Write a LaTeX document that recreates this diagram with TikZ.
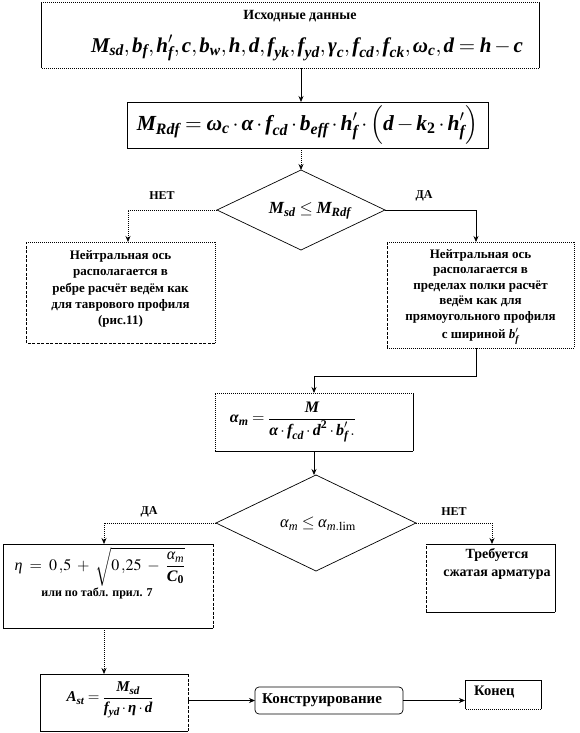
\documentclass[tikz,border=0pt]{standalone}
\usepackage{amsmath}
\usepackage{mathptmx}
\usepackage[no-math]{fontspec}
\setmainfont{Liberation Serif}
\usetikzlibrary{arrows.meta,shapes.geometric}
\newcommand\bi[1]{\text{\bfseries\itshape #1}}
\newcommand\ri[1]{\text{\itshape #1}}
\newcommand\boxsides[5]{%
  \draw[#2] (#1.north west) -- (#1.north east);
  \draw[#3] (#1.north east) -- (#1.south east);
  \draw[#4] (#1.south east) -- (#1.south west);
  \draw[#5] (#1.south west) -- (#1.north west);}
\tikzset{
  lw/.style={line width=0.7pt},
  fdot/.style={lw,dash pattern=on 1pt off 1pt},
  fdash/.style={lw,dash pattern=on 3pt off 1.5pt},
  sol/.style={lw},
  frame/.style={rectangle,inner sep=0pt,outer sep=0pt},
  arr/.style={lw,-{Stealth[length=6pt,width=5pt]}},
  txt/.style={font=\fontsize{14}{16.5}\selectfont\bfseries,align=center,inner sep=0pt},
  side/.style={font=\fontsize{13}{16.3}\selectfont\bfseries,align=center,inner sep=0pt},
  lbl/.style={font=\fontsize{12}{14}\selectfont\bfseries,inner sep=0pt},
  dia/.style={diamond,draw,lw,inner sep=0pt,outer sep=0pt}
}
\begin{document}
\begin{tikzpicture}[x=1pt,y=-1pt]
\useasboundingbox (0,0) rectangle (579,733);
% box 1
\node[frame,minimum width=498pt,minimum height=66pt] (b1) at (290,35) {};
\boxsides{b1}{fdot}{sol}{fdot}{sol}
\node[txt] (b1t) at (300,16) {Исходные данные};
\node[inner sep=0pt,font=\fontsize{21}{24}\selectfont] (b1f) at (307,48)
 {$\bi{M}_{\bi{sd}},\bi{b}_{\bi{f}},\bi{h}_{\bi{f}}^{\prime},\bi{c},\bi{b}_{\bi{w}},\bi{h},\bi{d},\bi{f}_{\bi{yk}},\bi{f}_{\bi{yd}},\bi{γ}_{\bi{c}},\bi{f}_{\bi{cd}},\bi{f}_{\bi{ck}},\bi{ω}_{\bi{c}},\bi{d}=\bi{h}-\bi{c}$};
% box 2
\node[frame,draw,lw,minimum width=361pt,minimum height=46pt,font=\fontsize{21.5}{24}\selectfont] (b2) at (307.5,125)
 {$\bi{M}_{\bi{Rdf}}=\bi{ω}_{\bi{c}}\cdot\bi{α}\cdot\bi{f}_{\bi{cd}}\cdot\bi{b}_{\bi{eff}}\cdot\bi{h}_{\bi{f}}^{\prime}\cdot\left(\bi{d}-\bi{k}_{\textbf{2}}\cdot\bi{h}_{\bi{f}}^{\prime}\right)$};
% diamond 1
\node[dia,minimum width=168pt,minimum height=80pt] (d1) at (301,210) {};
\node[inner sep=0pt,font=\fontsize{17}{20}\selectfont] (d1t) at (310,211) {$\bi{M}_{\bi{sd}}\le\bi{M}_{\bi{Rdf}}$};
\node[lbl] (no1) at (162,196) {НЕТ};
\node[lbl] (yes1) at (424,196) {ДА};
% side boxes
\node[frame,minimum width=189pt,minimum height=101pt] (bl) at (120.5,292.5) {};
\node[side] (blt) at (120.5,289)
 {Нейтральная ось\\располагается в\\ребре расчёт ведём как\\для таврового профиля\\(рис.11)};
\boxsides{bl}{fdot}{fdot}{fdash}{fdash}
\node[frame,minimum width=187pt,minimum height=106pt] (br) at (480.5,295) {};
\node[side,font=\fontsize{13}{15.5}\selectfont\bfseries] (brt) at (480.5,286)
 {Нейтральная ось\\располагается в\\пределах полки расчёт\\ведём как для\\прямоугольного профиля};
\node[side] (brt2) at (480.5,336) {с шириной $\bi{b}_{\bi{f}}^{\prime}$};
\boxsides{br}{fdot}{fdot}{fdot}{fdash}
% box 3
\node[frame,minimum width=198pt,minimum height=58pt] (b3) at (314,422) {};
\boxsides{b3}{fdot}{sol}{sol}{fdot}
\node[inner sep=0pt,font=\fontsize{16}{19}\selectfont] (b3f) at (293,422)
 {$\bi{α}_{\bi{m}}=\dfrac{\bi{M}}{\bi{α}\cdot\bi{f}_{\bi{cd}}\cdot\bi{d}^{\textbf{2}}\cdot\bi{b}^{\prime}_{\bi{f}}\,.}$};
% diamond 2
\node[dia,minimum width=200pt,minimum height=96pt] (d2) at (316,523) {};
\node[inner sep=0pt,font=\fontsize{16.5}{19}\selectfont] (d2t) at (318,524) {$\ri{α}_{\ri{m}}\le\ri{α}_{\ri{m}.\mathrm{lim}}$};
\node[lbl] (yes2) at (149,512) {ДА};
\node[lbl] (no2) at (454,512) {НЕТ};
% box 4
\node[frame,minimum width=210pt,minimum height=84pt] (b4) at (108,586) {};
\boxsides{b4}{sol}{fdash}{sol}{sol}
\node[inner sep=0pt,font=\fontsize{16}{19}\selectfont] (b4f) at (100,567)
 {$\ri{η}\;=\;0\,{,}5\;+\;\sqrt{0\,{,}25\;-\;\dfrac{\ri{α}_{\ri{m}}}{\bi{C}_{\textbf{0}}}}$};
\node[txt,font=\fontsize{12}{14}\selectfont\bfseries] (b4t) at (97,593) {или по табл. прил. 7};
% box 5
\node[frame,minimum width=129pt,minimum height=68pt] (b5) at (490.5,578) {};
\boxsides{b5}{sol}{sol}{sol}{fdash}
\node[txt,font=\fontsize{14}{18}\selectfont\bfseries] (b5t) at (497,564) {Требуется\\сжатая арматура};
% bottom row
\node[frame,minimum width=148pt,minimum height=57pt] (ast) at (114,702.5) {};
\boxsides{ast}{sol}{fdash}{sol}{sol}
\node[inner sep=0pt,font=\fontsize{15}{18}\selectfont] (astf) at (110,700)
 {$\bi{A}_{\bi{st}}=\dfrac{\bi{M}_{\bi{sd}}}{\bi{f}_{\bi{yd}}\cdot\bi{η}\cdot\bi{d}}$};
\node[frame,draw,lw,rounded corners=4pt,minimum width=148pt,minimum height=27pt] (kon) at (329,700.5) {};
\node[lbl,anchor=west,font=\fontsize{15}{17}\selectfont\bfseries] (kont) at (262,700) {Конструирование};
\node[frame,minimum width=76pt,minimum height=29pt] (end) at (503,694.5) {};
\boxsides{end}{sol}{sol}{fdot}{sol}
\node[lbl,anchor=west,font=\fontsize{14.5}{17}\selectfont\bfseries] (endt) at (474,692) {Конец};
% connectors
\draw[arr] (b1.south -| d1) -- (b2.north -| d1);
\draw[arr,fdot] (b2.south -| d1) -- (d1.north);
\draw[arr,fdot] (d1.west) -| ([xshift=7.5pt]bl.north);
\draw[arr] (d1.east) -| ([xshift=-4.5pt]br.north);
\draw[arr] ([xshift=-4.5pt]br.south) -- ++(0,28) -| (b3.north);
\draw[arr] (b3.south) -- (b3.south |- d2.north);
\draw[arr,fdot] (d2.west) -| ([xshift=-4pt]b4.north);
\draw[arr,fdot] (d2.east) -| ([xshift=1.5pt]b5.north);
\draw[arr,fdot] ([xshift=-4pt]b4.south) -- ([xshift=-4pt]b4.south |- ast.north);
\draw[arr] (ast.east |- kon) -- (kon.west);
\draw[arr] (kon.east) -- (kon.east -| end.west);
\end{tikzpicture}
\end{document}
